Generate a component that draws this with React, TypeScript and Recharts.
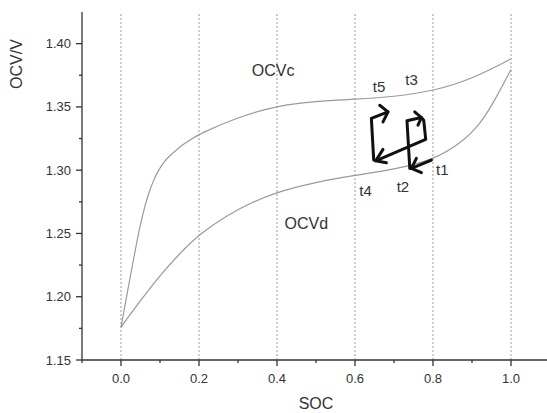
import {
  ComposedChart, Line, Scatter, XAxis, YAxis, ReferenceLine
} from "recharts";

// SOC / OCV curves
const ocvC = [
  { x: 0, y: 1.176 }, { x: 0.022, y: 1.213 }, { x: 0.04, y: 1.243 },
  { x: 0.056, y: 1.266 }, { x: 0.07, y: 1.281 }, { x: 0.082, y: 1.291 },
  { x: 0.095, y: 1.2995 }, { x: 0.11, y: 1.3065 }, { x: 0.125, y: 1.3115 },
  { x: 0.142, y: 1.316 }, { x: 0.16, y: 1.3205 }, { x: 0.18, y: 1.3245 },
  { x: 0.2, y: 1.3285 }, { x: 0.3, y: 1.342 }, { x: 0.4, y: 1.351 },
  { x: 0.5, y: 1.3545 }, { x: 0.6, y: 1.356 }, { x: 0.7, y: 1.358 },
  { x: 0.8, y: 1.3625 }, { x: 0.9, y: 1.372 }, { x: 1.0, y: 1.388 },
];

const ocvD = [
  { x: 0, y: 1.176 }, { x: 0.05, y: 1.197 }, { x: 0.1, y: 1.217 },
  { x: 0.15, y: 1.234 }, { x: 0.2, y: 1.2496 }, { x: 0.3, y: 1.27 },
  { x: 0.4, y: 1.283 }, { x: 0.5, y: 1.2905 }, { x: 0.6, y: 1.296 },
  { x: 0.7, y: 1.3005 }, { x: 0.8, y: 1.308 }, { x: 0.87, y: 1.321 },
  { x: 0.92, y: 1.3356 }, { x: 0.96, y: 1.356 }, { x: 1.0, y: 1.3795 },
];

// hand drawn arrows t1 -> t2 -> t3 -> t4 -> t5
const arrowT1T2 = [{ x: 0.7959, y: 1.308 }, { x: 0.7446, y: 1.3014 }];
const headT2 = [{ x: 0.7574, y: 1.3093 }, { x: 0.7446, y: 1.3014 }, { x: 0.7703, y: 1.298 }];
const arrowT2T4 = [
  { x: 0.7405, y: 1.3014 }, { x: 0.7333, y: 1.339 }, { x: 0.7703, y: 1.3416 },
  { x: 0.7762, y: 1.3395 }, { x: 0.7813, y: 1.3243 }, { x: 0.6531, y: 1.3074 },
];
const headT3 = [{ x: 0.7531, y: 1.3461 }, { x: 0.7703, y: 1.3416 }, { x: 0.7615, y: 1.3356 }];
const headT4 = [{ x: 0.6718, y: 1.3164 }, { x: 0.6531, y: 1.3074 }, { x: 0.6805, y: 1.3058 }];
const arrowT4T5 = [{ x: 0.648, y: 1.308 }, { x: 0.642, y: 1.3409 }, { x: 0.6846, y: 1.3461 }];
const headT5 = [{ x: 0.6633, y: 1.3513 }, { x: 0.6846, y: 1.3461 }, { x: 0.6718, y: 1.3382 }];

const arrows = [arrowT1T2, headT2, arrowT2T4, headT3, headT4, arrowT4T5, headT5];

const curveLabels = [
  { x: 0.39, y: 1.379, text: "OCVc" },
  { x: 0.475, y: 1.258, text: "OCVd" },
];

const timeLabels = [
  { x: 0.824, y: 1.3006, text: "t1" },
  { x: 0.723, y: 1.2874, text: "t2" },
  { x: 0.745, y: 1.3719, text: "t3" },
  { x: 0.627, y: 1.2843, text: "t4" },
  { x: 0.6615, y: 1.3664, text: "t5" },
];

const xMajor = [0, 0.2, 0.4, 0.6, 0.8, 1.0];
const xMinor = [-0.1, 0.1, 0.3, 0.5, 0.7, 0.9, 1.1];
const xTicks = [...xMajor, ...xMinor].sort((a, b) => a - b);

const yMajor = [1.15, 1.2, 1.25, 1.3, 1.35, 1.4];
const yMinor = [1.175, 1.225, 1.275, 1.325, 1.375];
const yTicks = [...yMajor, ...yMinor].sort((a, b) => a - b);

const FONT = "'Liberation Sans', Arial, sans-serif";
const AXIS = "#333";
const isMajor = (list: number[], v: number) => list.some((m) => Math.abs(m - v) < 1e-6);

const BottomTick = (p: any) => {
  const major = isMajor(xMajor, p.payload.value);
  return (
    <g>
      <line x1={p.x} x2={p.x} y1={p.y} y2={p.y + (major ? 6 : 3)} stroke={AXIS} strokeWidth={1.3} />
      {major && (
        <text x={p.x} y={p.y + 18} textAnchor="middle" dominantBaseline="central"
          fontSize={13} fontFamily={FONT} fill="#333">
          {p.payload.value.toFixed(1)}
        </text>
      )}
    </g>
  );
};

const TopTick = (p: any) => {
  const major = isMajor(xMajor, p.payload.value);
  return <line x1={p.x} x2={p.x} y1={p.y} y2={p.y + (major ? 6 : 3)} stroke={AXIS} strokeWidth={1.3} />;
};

const LeftTick = (p: any) => {
  const major = isMajor(yMajor, p.payload.value);
  return (
    <g>
      <line x1={p.x - (major ? 6 : 3)} x2={p.x} y1={p.y} y2={p.y} stroke={AXIS} strokeWidth={1.3} />
      {major && (
        <text x={p.x - 11} y={p.y} textAnchor="end" dominantBaseline="central"
          fontSize={13} fontFamily={FONT} fill="#333">
          {p.payload.value.toFixed(2)}
        </text>
      )}
    </g>
  );
};

const RightTick = (p: any) => {
  const major = isMajor(yMajor, p.payload.value);
  return <line x1={p.x - (major ? 7 : 4)} x2={p.x} y1={p.y} y2={p.y} stroke={AXIS} strokeWidth={1.3} />;
};

const TextShape = (size: number) => (p: any) => (
  <text x={p.cx} y={p.cy} textAnchor="middle" dominantBaseline="central"
    fontSize={size} fontFamily={FONT} fill="#333">
    {p.payload.text}
  </text>
);

export default function App() {
  return (
    <div style={{ position: "absolute", left: 0, top: 0, width: 547, height: 413, overflow: "hidden", background: "#fff" }}>
      <ComposedChart width={560} height={413} margin={{ top: 12, right: 10, left: 0, bottom: 0 }}>
        <XAxis type="number" dataKey="x" domain={[-0.1, 1.1]} ticks={xTicks} interval={0}
          allowDataOverflow height={53} tickSize={0} tickMargin={0} tickLine={false}
          axisLine={{ stroke: AXIS, strokeWidth: 1.3 }} tick={<BottomTick />}
          label={{
            content: ({ viewBox }: any) => (
              <text x={viewBox.x + viewBox.width / 2} y={viewBox.y + 43} textAnchor="middle"
                dominantBaseline="central" fontSize={16} fontFamily={FONT} fill="#333">SOC</text>
            ),
          }} />
        <XAxis xAxisId="top" orientation="top" type="number" domain={[-0.1, 1.1]} ticks={xTicks}
          interval={0} allowDataOverflow height={0} tickSize={0} tickMargin={0} tickLine={false}
          axisLine={{ stroke: AXIS, strokeWidth: 1.3 }} tick={<TopTick />} />
        <YAxis type="number" domain={[1.15, 1.425]} ticks={yTicks} interval={0} allowDataOverflow
          width={82} tickSize={0} tickMargin={0} tickLine={false}
          axisLine={{ stroke: AXIS, strokeWidth: 1.3 }} tick={<LeftTick />}
          label={{
            content: ({ viewBox }: any) => (
              <text x={16} y={viewBox.y + 52} textAnchor="middle" dominantBaseline="central"
                transform={`rotate(-90, 16, ${viewBox.y + 52})`}
                fontSize={16} fontFamily={FONT} fill="#333">OCV/V</text>
            ),
          }} />
        <YAxis yAxisId="right" orientation="right" type="number" domain={[1.15, 1.425]} ticks={yTicks}
          interval={0} allowDataOverflow width={0} tickSize={0} tickMargin={0} tickLine={false}
          axisLine={{ stroke: AXIS, strokeWidth: 1.3 }} tick={<RightTick />} />

        {xMajor.map((v) => (
          <ReferenceLine key={v} x={v} stroke="#999" strokeWidth={1} strokeDasharray="2 2" />
        ))}

        <Line data={ocvC} dataKey="y" type="basis" stroke="#9a9a9a" strokeWidth={1.2}
          dot={false} isAnimationActive={false} />
        <Line data={ocvD} dataKey="y" type="basis" stroke="#9a9a9a" strokeWidth={1.2}
          dot={false} isAnimationActive={false} />

        {arrows.map((a, i) => (
          <Line key={i} data={a} dataKey="y" type="linear" stroke="#111" strokeWidth={3}
            strokeLinecap="round" strokeLinejoin="round" dot={false} isAnimationActive={false} />
        ))}

        <Scatter data={curveLabels} dataKey="y" shape={TextShape(16)} isAnimationActive={false} />
        <Scatter data={timeLabels} dataKey="y" shape={TextShape(15)} isAnimationActive={false} />
      </ComposedChart>
    </div>
  );
}
